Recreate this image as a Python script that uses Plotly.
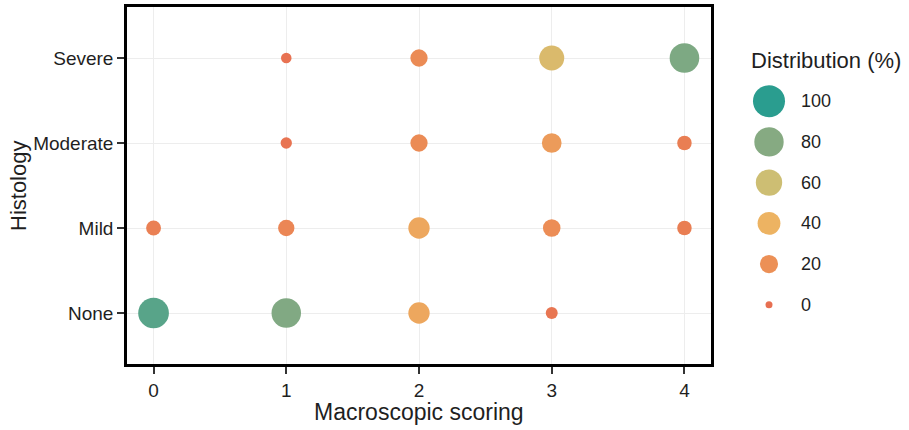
import numpy as np
import plotly.graph_objects as go

# Macroscopic score (x) vs histology grade (y); bubble = share of samples (%)
scores = [0, 1, 2, 3, 4]
grades = ["None", "Mild", "Moderate", "Severe"]
pct_none = [90, 81, 33, 4, None]
pct_mild = [10, 14, 33, 18, 9]
pct_moderate = [None, 3, 17, 26, 9]
pct_severe = [None, 2, 17, 52, 82]
legend_values = [100, 80, 60, 40, 20, 0]

W, H = 909, 430
FONT = "Liberation Sans, Arial, sans-serif"
TEXT = "#1F1F1F"
colorscale = [
    [0.0, "#E76F51"],
    [0.2, "#EC9056"],
    [0.4, "#EDB362"],
    [0.6, "#CDBE73"],
    [0.8, "#86AA82"],
    [1.0, "#2A9D8F"],
]


def diam(v):
    """Point diameter in px, area-scaled like ggplot's scale_size."""
    return 7 + 25 * np.sqrt(np.asarray(v, dtype=float) / 100.0)


xs, ys, vs = [], [], []
for grade, row in zip(grades, [pct_none, pct_mild, pct_moderate, pct_severe]):
    for s, v in zip(scores, row):
        if v is None:
            continue
        xs.append(s)
        ys.append(grade)
        vs.append(v)

fig = go.Figure()
fig.add_trace(go.Scatter(
    x=xs, y=ys, mode="markers",
    marker=dict(size=diam(vs), color=vs, colorscale=colorscale,
                cmin=0, cmax=100, line=dict(width=0), opacity=1),
    showlegend=False, hoverinfo="x+y+text", text=[f"{v}%" for v in vs],
))

# size/colour key
key_pos = list(range(len(legend_values)))
fig.add_trace(go.Scatter(
    x=[0] * len(legend_values), y=key_pos, mode="markers",
    marker=dict(size=diam(legend_values), color=legend_values,
                colorscale=colorscale, cmin=0, cmax=100, line=dict(width=0),
                opacity=1),
    xaxis="x2", yaxis="y2", showlegend=False, hoverinfo="skip",
))

px_x = lambda p: p / W
px_y = lambda p: 1 - p / H

axis_common = dict(
    showline=True, linecolor="black", linewidth=2.5, mirror=True,
    ticks="outside", ticklen=7, tickwidth=1.5, tickcolor="#333333",
    showgrid=True, gridcolor="#EDEDED", gridwidth=1, zeroline=False,
    tickfont=dict(family=FONT, size=19, color=TEXT),
)

fig.update_layout(
    width=W, height=H,
    margin=dict(l=0, r=0, t=0, b=0),
    paper_bgcolor="white", plot_bgcolor="white",
    xaxis=dict(domain=[px_x(127), px_x(711)], range=[-0.2, 4.2],
               tickvals=scores, ticktext=[str(s) for s in scores],
               anchor="y", **axis_common),
    yaxis=dict(domain=[px_y(364), px_y(7)], type="category",
               categoryorder="array", categoryarray=grades,
               range=[-0.6, 3.6], anchor="x", **axis_common),
    xaxis2=dict(domain=[px_x(739), px_x(799)], range=[-1, 1], visible=False,
                anchor="y2"),
    yaxis2=dict(domain=[px_y(330), px_y(80)], range=[5.62, -0.52],
                visible=False, anchor="x2"),
)

annotations = [
    dict(text="Macroscopic scoring", x=px_x(419), y=px_y(412), xref="paper",
         yref="paper", showarrow=False, xanchor="center", yanchor="middle",
         font=dict(family=FONT, size=23, color=TEXT)),
    dict(text="Histology", x=px_x(19), y=px_y(186), xref="paper", yref="paper",
         showarrow=False, textangle=-90, xanchor="center", yanchor="middle",
         font=dict(family=FONT, size=22, color=TEXT)),
    dict(text="Distribution (%)", x=px_x(749), y=px_y(61), xref="paper",
         yref="paper", showarrow=False, xanchor="left", yanchor="middle",
         font=dict(family=FONT, size=22, color=TEXT)),
]
for i, v in zip(key_pos, legend_values):
    annotations.append(dict(
        text=str(v), x=px_x(799), y=i, xref="paper", yref="y2",
        showarrow=False, xanchor="left", yanchor="middle",
        font=dict(family=FONT, size=18, color=TEXT)))
fig.update_layout(annotations=annotations)

fig.write_html("out.html")
